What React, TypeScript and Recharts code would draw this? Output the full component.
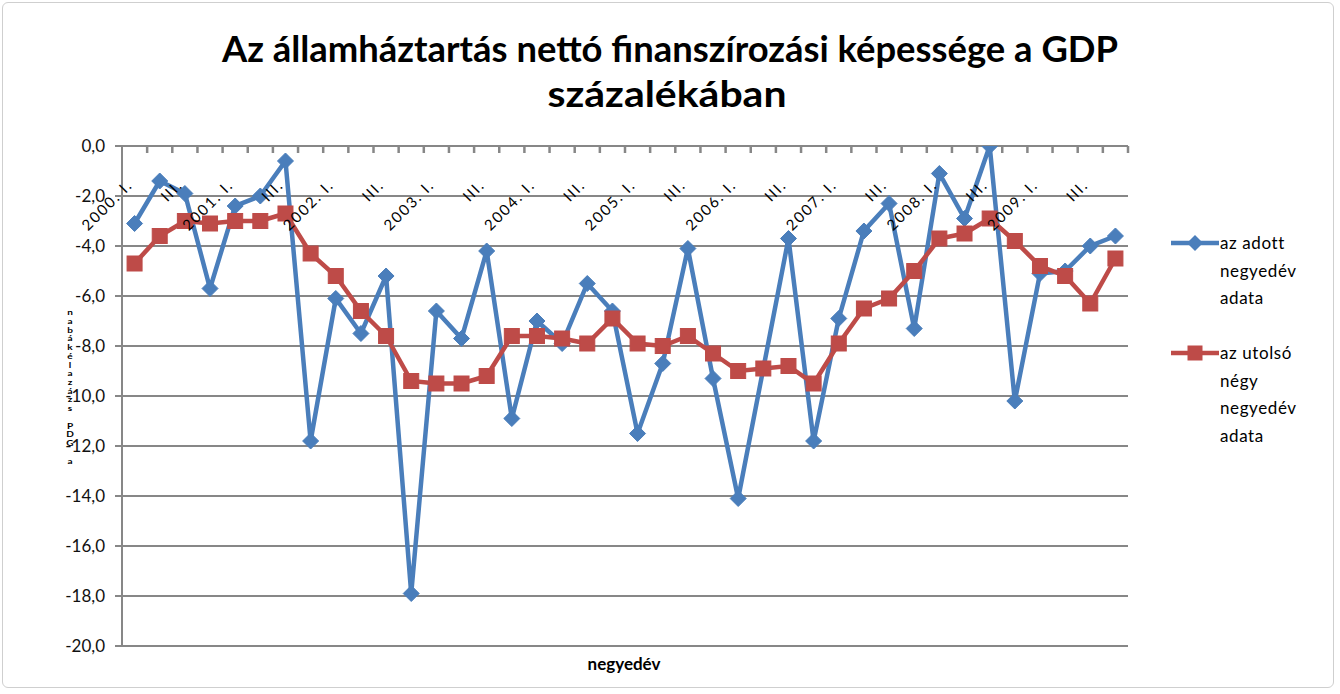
import React from "react";
import { LineChart, Line, XAxis, YAxis, CartesianGrid, Legend } from "recharts";

const quarters: string[] = [
  "2000. I.", "II.", "III.", "IV.",
  "2001. I.", "II.", "III.", "IV.",
  "2002. I.", "II.", "III.", "IV.",
  "2003. I.", "II.", "III.", "IV.",
  "2004. I.", "II.", "III.", "IV.",
  "2005. I.", "II.", "III.", "IV.",
  "2006. I.", "II.", "III.", "IV.",
  "2007. I.", "II.", "III.", "IV.",
  "2008. I.", "II.", "III.", "IV.",
  "2009. I.", "II.", "III.", "IV.",
];

const quarterly: number[] = [
  -3.1, -1.4, -1.9, -5.7, -2.4, -2.0, -0.6, -11.8, -6.1, -7.5,
  -5.2, -17.9, -6.6, -7.7, -4.2, -10.9, -7.0, -7.9, -5.5, -6.6,
  -11.5, -8.7, -4.1, -9.3, -14.1, -8.9, -3.7, -11.8, -6.9, -3.4,
  -2.3, -7.3, -1.1, -2.9, 0.0, -10.2, -5.1, -5.0, -4.0, -3.6,
];

const rolling: number[] = [
  -4.7, -3.6, -3.0, -3.1, -3.0, -3.0, -2.7, -4.3, -5.2, -6.6,
  -7.6, -9.4, -9.5, -9.5, -9.2, -7.6, -7.6, -7.7, -7.9, -6.9,
  -7.9, -8.0, -7.6, -8.3, -9.0, -8.9, -8.8, -9.5, -7.9, -6.5,
  -6.1, -5.0, -3.7, -3.5, -2.9, -3.8, -4.8, -5.2, -6.3, -4.5,
];

const yTicks: number[] = [-20, -18, -16, -14, -12, -10, -8, -6, -4, -2, 0];

const seriesNames = ["az adott negyedév adata", "az utolsó négy negyedév adata"];
const titleLines = ["Az államháztartás nettó finanszírozási képessége a GDP", "százalékában"];
const xTitle = "negyedév";
const yTitle = "a GDP százalékában";

const BLUE = "#4A7EBB";
const RED = "#BE4B48";
const GRID = "#878787";
const FONT = "Lato, 'Open Sans', sans-serif";
const HALF_BAND = 12.575;

const data = quarters.map((q, i) => ({ q, a: quarterly[i], b: rolling[i] }));

const Diamond = (props: any) => {
  const { cx, cy } = props;
  if (cx == null || cy == null) return null;
  const r = 8;
  return <path d={`M${cx},${cy - r} L${cx + r},${cy} L${cx},${cy + r} L${cx - r},${cy} Z`} fill={BLUE} stroke={BLUE} />;
};

const Square = (props: any) => {
  const { cx, cy } = props;
  if (cx == null || cy == null) return null;
  const s = 15;
  return <rect x={cx - s / 2} y={cy - s / 2} width={s} height={s} fill={RED} stroke={RED} />;
};

const XTick = (props: any) => {
  const { x, y, payload, index } = props;
  const ty = y + 40;
  const tx = x - 1;
  return (
    <g>
      <line x1={x + HALF_BAND} x2={x + HALF_BAND} y1={y} y2={y + 7} stroke={GRID} strokeWidth={2.5} />
      {index % 2 === 0 ? (
        <text
          x={tx}
          y={ty}
          textAnchor="end"
          transform={`rotate(-45 ${tx} ${ty})`}
          fontSize={15}
          letterSpacing={1.8}
          fill="#000"
          fontFamily={FONT}
        >
          {payload.value}
        </text>
      ) : null}
    </g>
  );
};

const renderLegend = (props: any) => {
  const { payload } = props;
  return (
    <div style={{ fontFamily: FONT, fontSize: 17, color: "#000", letterSpacing: 0.6 }}>
      {(payload || []).map((p: any, i: number) => (
        <div key={i} style={{ display: "flex", alignItems: "flex-start", marginBottom: 27.5 }}>
          <svg width={50} height={27.5} style={{ flex: "none" }}>
            <line x1={1} x2={49} y1={14} y2={14} stroke={p.color} strokeWidth={4.5} />
            {i === 0 ? (
              <path d="M25,6 L33,14 L25,22 L17,14 Z" fill={p.color} />
            ) : (
              <rect x={17.5} y={6.5} width={15} height={15} fill={p.color} />
            )}
          </svg>
          <div style={{ width: 92, lineHeight: "27.5px" }}>{p.value}</div>
        </div>
      ))}
    </div>
  );
};

export default function App() {
  return (
    <div style={{ position: "absolute", left: 0, top: 0, width: 1340, height: 694, background: "#fff", overflow: "hidden" }}>
      <div
        style={{
          position: "absolute",
          left: 2,
          top: 2,
          width: 1332,
          height: 686,
          border: "1.5px solid #cfcfcf",
          borderRadius: 6,
          boxSizing: "border-box",
        }}
      />
      <div style={{ position: "absolute", left: 0, top: 0 }}>
        <LineChart width={1340} height={694} data={data} margin={{ top: 116, right: 52, bottom: 48, left: 62 }}>
          <CartesianGrid vertical={false} stroke={GRID} strokeWidth={2} />
          <XAxis
            dataKey="q"
            orientation="top"
            height={30}
            interval={0}
            padding={{ left: HALF_BAND, right: HALF_BAND }}
            tickLine={false}
            tickSize={0}
            tickMargin={0}
            axisLine={{ stroke: GRID, strokeWidth: 2 }}
            tick={<XTick />}
          />
          <YAxis
            width={60}
            domain={[-20, 0]}
            ticks={yTicks}
            interval={0}
            allowDataOverflow
            tickSize={7}
            tickMargin={10}
            tickFormatter={(v: number) => v.toFixed(1).replace(".", ",")}
            tick={{ fontSize: 17, fill: "#111", fontFamily: FONT }}
            axisLine={{ stroke: GRID, strokeWidth: 2 }}
            tickLine={{ stroke: GRID, strokeWidth: 2 }}
          />
          <Line
            type="linear"
            dataKey="a"
            name={seriesNames[0]}
            stroke={BLUE}
            strokeWidth={4.5}
            dot={<Diamond />}
            activeDot={false}
            isAnimationActive={false}
          />
          <Line
            type="linear"
            dataKey="b"
            name={seriesNames[1]}
            stroke={RED}
            strokeWidth={4.5}
            dot={<Square />}
            activeDot={false}
            isAnimationActive={false}
          />
          <Legend
            layout="vertical"
            verticalAlign="top"
            align="right"
            content={renderLegend}
            wrapperStyle={{ position: "absolute", left: 1170, top: 229, width: 160 }}
          />
        </LineChart>
      </div>
      <svg width={1340} height={694} style={{ position: "absolute", left: 0, top: 0, pointerEvents: "none" }}>
        <text
          x={670}
          y={62}
          textAnchor="middle"
          fontFamily={FONT}
          fontWeight="bold"
          fontSize={36}
          textLength={896}
          lengthAdjust="spacingAndGlyphs"
          fill="#000"
        >
          {titleLines[0]}
        </text>
        <text
          x={667}
          y={107}
          textAnchor="middle"
          fontFamily={FONT}
          fontWeight="bold"
          fontSize={36}
          textLength={239}
          lengthAdjust="spacingAndGlyphs"
          fill="#000"
        >
          {titleLines[1]}
        </text>
        <text x={624} y={670} textAnchor="middle" fontFamily={FONT} fontWeight="bold" fontSize={17} fill="#000">
          {xTitle}
        </text>
        <text
          x={70}
          y={308}
          fontFamily={FONT}
          fontWeight="bold"
          fontSize={10}
          fill="#000"
          textLength={157}
          lengthAdjust="spacingAndGlyphs"
          style={{ writingMode: "vertical-rl", textOrientation: "upright" } as any}
        >
          {yTitle.split("").reverse().join("")}
        </text>
      </svg>
    </div>
  );
}
